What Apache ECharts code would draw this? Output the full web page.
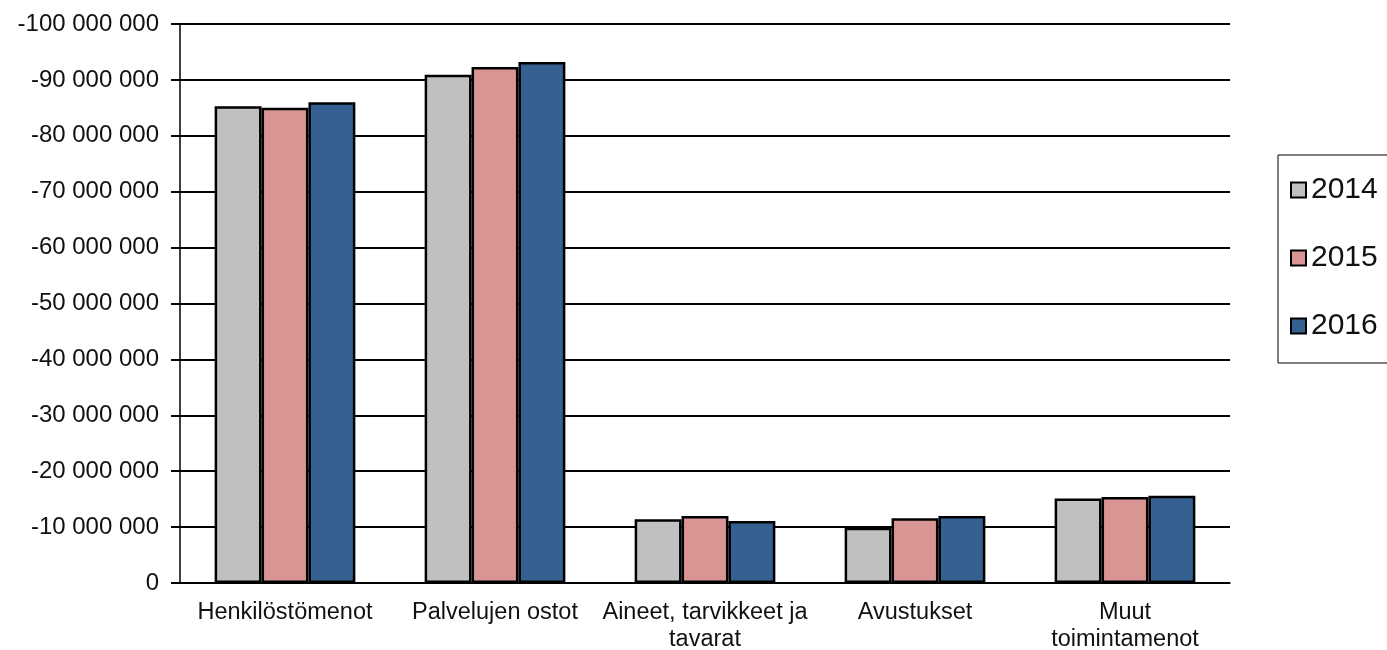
<!DOCTYPE html>
<html>
<head>
<meta charset="utf-8">
<script src="https://cdn.jsdelivr.net/npm/echarts@6/dist/echarts.min.js"></script>
<style>
  html, body { margin: 0; padding: 0; background: #fff; }
  #chart { width: 1387px; height: 650px; }
</style>
</head>
<body>
<div id="chart"></div>
<script>
const categories = [
  'Henkilöstömenot',
  'Palvelujen ostot',
  'Aineet, tarvikkeet ja\ntavarat',
  'Avustukset',
  'Muut\ntoimintamenot'
]
const years = ['2014', '2015', '2016']
const values2014 = [-85300000, -90900000, -11400000, -9900000, -15100000]
const values2015 = [-85000000, -92300000, -12000000, -11600000, -15400000]
const values2016 = [-86000000, -93200000, -11100000, -12000000, -15600000]
const colors = ['#c0c0c0', '#d99594', '#366092']

const font = '"Liberation Sans", Arial, sans-serif'
const textColor = '#111'

// group digits with spaces, e.g. -100 000 000
const fmt = v => {
  const s = String(Math.abs(v)).replace(/\B(?=(\d{3})+(?!\d))/g, ' ')
  return (v < 0 ? '-' : '') + s
}

const seriesData = [values2014, values2015, values2016]

const chart = echarts.init(document.getElementById('chart'), null, { renderer: 'canvas' })

chart.setOption({
  animation: false,
  backgroundColor: '#fff',
  grid: { left: 180, right: 157, top: 24, bottom: 67, outerBoundsMode: 'none' },
  legend: {
    orient: 'vertical',
    left: 1278,
    top: 155,
    padding: [20, 40, 22, 12],
    borderColor: '#000',
    borderWidth: 1,
    itemWidth: 15,
    itemHeight: 15,
    itemGap: 38,
    itemTextGap: 3,
    icon: 'rect',
    textStyle: { fontFamily: font, fontSize: 30, color: textColor },
    data: years
  },
  xAxis: {
    type: 'category',
    data: categories,
    boundaryGap: true,
    axisLine: { lineStyle: { color: '#000', width: 1.5 } },
    axisTick: { inside: true, length: 7, lineStyle: { color: '#000', width: 1.5 } },
    axisLabel: {
      fontFamily: font,
      fontSize: 23.5,
      color: textColor,
      margin: 16,
      lineHeight: 27,
      interval: 0
    }
  },
  yAxis: {
    type: 'value',
    inverse: true,
    min: -100000000,
    max: 0,
    interval: 10000000,
    axisLine: { show: true, lineStyle: { color: '#000', width: 1.5 } },
    axisTick: { show: true, length: 9, lineStyle: { color: '#000', width: 2 } },
    splitLine: { lineStyle: { color: '#000', width: 2 } },
    axisLabel: {
      fontFamily: font,
      fontSize: 24,
      color: textColor,
      margin: 21,
      formatter: fmt
    }
  },
  series: years.map((y, i) => ({
    name: y,
    type: 'bar',
    data: seriesData[i],
    barGap: '0%',
    barCategoryGap: '33%',
    itemStyle: { color: colors[i], borderColor: '#000', borderWidth: 2.5 }
  }))
})
</script>
</body>
</html>
